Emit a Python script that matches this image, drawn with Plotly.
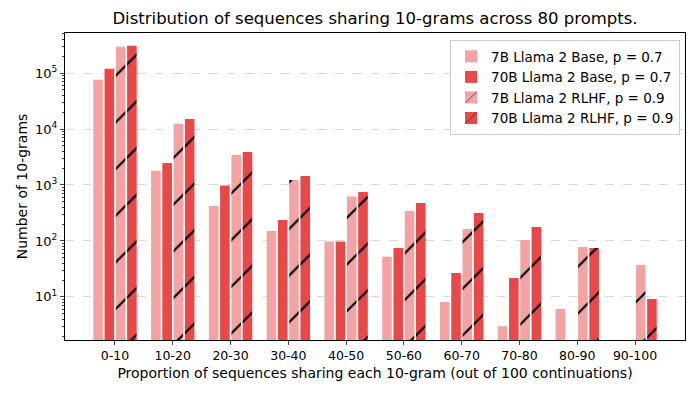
import plotly.graph_objects as go

# Categories on the x axis
bins = ["0-10", "10-20", "20-30", "30-40", "40-50",
        "50-60", "60-70", "70-80", "80-90", "90-100"]

# Number of 10-grams per bin (None = no bar)
base_7b = [76000, 1790, 423, 150, 98, 52, 8.1, 3.0, 6.1, None]
base_70b = [119000, 2480, 980, 238, 98, 75, 26.7, 21.8, None, None]
rlhf_7b = [295000, 12400, 3450, 1230, 620, 344, 164, 104, 78, 37]
rlhf_70b = [307000, 15100, 3900, 1450, 750, 479, 316, 178, 75, 9.2]

# y tick labels
ytick_vals = [10, 100, 1000, 10000, 100000]
ytick_text = ["10<sup>1</sup>", "10<sup>2</sup>", "10<sup>3</sup>",
              "10<sup>4</sup>", "10<sup>5</sup>"]

light = "#F3A3A3"
red = "#E84848"
hatch = dict(shape="/", fgcolor="black", fgopacity=1, size=33, solidity=0.065)

fig = go.Figure()

fig.add_trace(go.Bar(x=bins, y=base_7b, name="7B Llama 2 Base, p = 0.7",
                     marker=dict(color=light, line=dict(width=0))))
fig.add_trace(go.Bar(x=bins, y=base_70b, name="70B Llama 2 Base, p = 0.7",
                     marker=dict(color=red, line=dict(width=0))))
fig.add_trace(go.Bar(x=bins, y=rlhf_7b, name="7B Llama 2 RLHF, p = 0.9",
                     marker=dict(color=light, line=dict(width=0), pattern=hatch)))
fig.add_trace(go.Bar(x=bins, y=rlhf_70b, name="70B Llama 2 RLHF, p = 0.9",
                     marker=dict(color=red, line=dict(width=0), pattern=hatch)))

font = "DejaVu Sans"

fig.update_layout(
    width=694, height=393,
    margin=dict(l=65, r=9, t=33, b=53, autoexpand=False),
    paper_bgcolor="white", plot_bgcolor="white",
    font=dict(family=font, size=11.5, color="black"),
    title=dict(text="Distribution of sequences sharing 10-grams across 80 prompts.",
               x=(65 + 685) / 2 / 694, xanchor="center",
               yref="container", y=1 - 18 / 393, yanchor="middle",
               font=dict(size=16.5), automargin=False),
    barmode="group", bargap=0.22, bargroupgap=0.15,
    legend=dict(x=0.992, y=0.977, xanchor="right", yanchor="top",
                bgcolor="rgba(255,255,255,0.8)", bordercolor="#cccccc",
                borderwidth=1, font=dict(size=13.5), tracegroupgap=0),
    showlegend=True,
)

fig.update_xaxes(
    title=dict(text="Proportion of sequences sharing each 10-gram (out of 100 continuations)",
               standoff=6),
    automargin=False, tickfont=dict(size=12.5),
    range=[-0.865, 9.865], showline=True, linecolor="black", linewidth=1,
    mirror=True, ticks="outside", ticklen=4, showgrid=False,
)

fig.update_yaxes(
    title=dict(text="Number of 10-grams", standoff=4),
    automargin=False, tickfont=dict(size=13),
    type="log", range=[0.23, 5.716], tickvals=ytick_vals, ticktext=ytick_text,
    showline=True, linecolor="black", linewidth=1, mirror=True,
    ticks="outside", ticklen=4,
    showgrid=True, gridcolor="#d9d9d9", griddash="dash", gridwidth=1,
    minor=dict(ticks="outside", ticklen=2, dtick="D1", showgrid=False),
)

# drop the browser's default 8px body margin so the figure sits at (0, 0)
fig.write_html("out.html", config={"displayModeBar": False},
               post_script="document.body.style.margin='0';")
